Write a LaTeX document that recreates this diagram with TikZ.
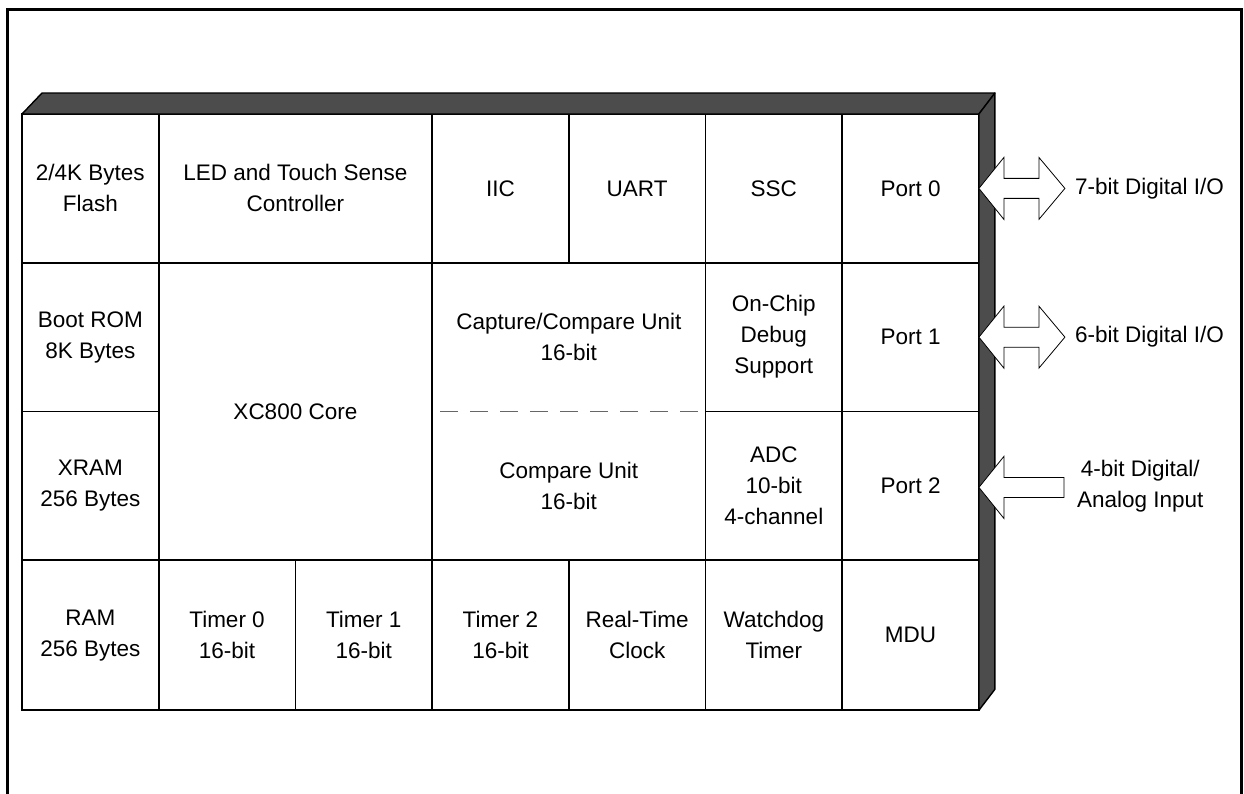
\documentclass[tikz,border=0pt]{standalone}
\usepackage{fontspec}
\setmainfont{Liberation Sans}
\usetikzlibrary{positioning, calc}
\tikzstyle{cell} = [rectangle, draw=black, line width=1.6pt, outer sep=0pt, inner sep=0pt, align=center, minimum width=136.7pt, minimum height=148.75pt]
\tikzstyle{wide} = [minimum width=273.4pt]
\tikzstyle{slab} = [draw=black, line width=1.4pt, fill=black!70, line join=round]
\tikzstyle{bus} = [draw=black, line width=0.8pt, fill=white]
\tikzstyle{pin} = [align=center, inner sep=0pt]
\tikzstyle{split} = [black!60, line width=1.4pt, dash pattern=on 18pt off 12pt]

\begin{document}
\begin{tikzpicture}[x=1pt, y=-1pt, every node/.style={font=\fontsize{22.5}{31}\selectfont}]

\useasboundingbox (0,0) rectangle (1244,794);
\draw [line width=3pt] (7.5,794) -- (7.5,10) -- (1241.5,10) -- (1241.5,794);

% top row
\node (flash) [cell] at (90.35,188.4) {2/4K Bytes\\Flash};
\node (led) [cell, wide, right=0pt of flash] {LED and Touch Sense\\Controller};
\node (iic) [cell, right=0pt of led] {IIC};
\node (uart) [cell, right=0pt of iic] {UART};
\node (ssc) [cell, right=0pt of uart] {SSC};
\node (port0) [cell, right=0pt of ssc] {Port 0};

% middle rows
\node (boot) [cell, below=0pt of flash] {Boot ROM\\8K Bytes};
\node (xram) [cell, below=0pt of boot] {XRAM\\256 Bytes};
\node (core) [cell, wide, minimum height=297.5pt, below=0pt of led] {XC800 Core};
\node (capture) [cell, wide, draw=none, below=0pt of iic.south east] {Capture/Compare Unit\\16-bit};
\node (compare) [cell, wide, draw=none, below=0pt of capture] {Compare Unit\\16-bit};
\node (ocds) [cell, below=0pt of ssc] {On-Chip\\Debug\\Support};
\node (adc) [cell, below=0pt of ocds] {ADC\\10-bit\\4-channel};
\node (port1) [cell, below=0pt of port0] {Port 1};
\node (port2) [cell, below=0pt of port1] {Port 2};

\draw [line width=1.6pt] (capture.north west) rectangle (compare.south east);
\draw [split] ($(capture.south west)+(8,0)$) -- ($(capture.south east)+(-8,0)$);

% bottom row
\node (ram) [cell, minimum height=150pt, below=0pt of xram] {RAM\\256 Bytes};
\node (mdu) [cell, minimum height=150pt, below=0pt of port2] {MDU};
\node (wdt) [cell, minimum height=150pt, left=0pt of mdu] {Watchdog\\Timer};
\node (rtc) [cell, minimum height=150pt, left=0pt of wdt] {Real-Time\\Clock};
\node (timer2) [cell, minimum height=150pt, left=0pt of rtc] {Timer 2\\16-bit};
\node (timer1) [cell, minimum height=150pt, left=0pt of timer2] {Timer 1\\16-bit};
\node (timer0) [cell, minimum height=150pt, left=0pt of timer1] {Timer 0\\16-bit};

% 3d faces
\draw [slab] (flash.north west) -- ++(20,-21) -- ($(port0.north east)+(16,-21)$) -- (port0.north east) -- cycle;
\draw [slab] (port0.north east) -- ++(16,-21) -- ($(mdu.south east)+(16,-21)$) -- (mdu.south east) -- cycle;

% pins
\node (io0) [pin, right=96pt of port0.east] {7-bit Digital I/O};
\node (io1) [pin, right=96pt of port1.east] {6-bit Digital I/O};
\node (ain) [pin, right=98pt of port2.east] {4-bit Digital/\\Analog Input};

\draw [bus] (port0.east) -- ++(25,-31) -- ++(0,21) -- ++(35,0) -- ++(0,-21) -- ++(26,31) -- ++(-26,31) -- ++(0,-21) -- ++(-35,0) -- ++(0,21) -- cycle;
\draw [bus] (port1.east) -- ++(25,-31) -- ++(0,21) -- ++(35,0) -- ++(0,-21) -- ++(26,31) -- ++(-26,31) -- ++(0,-21) -- ++(-35,0) -- ++(0,21) -- cycle;
\draw [bus] ($(port2.east)+(0,1.5)$) -- ++(25,-31) -- ++(0,21) -- ++(60,0) -- ++(0,20) -- ++(-60,0) -- ++(0,21) -- cycle;

\end{tikzpicture}
\end{document}
